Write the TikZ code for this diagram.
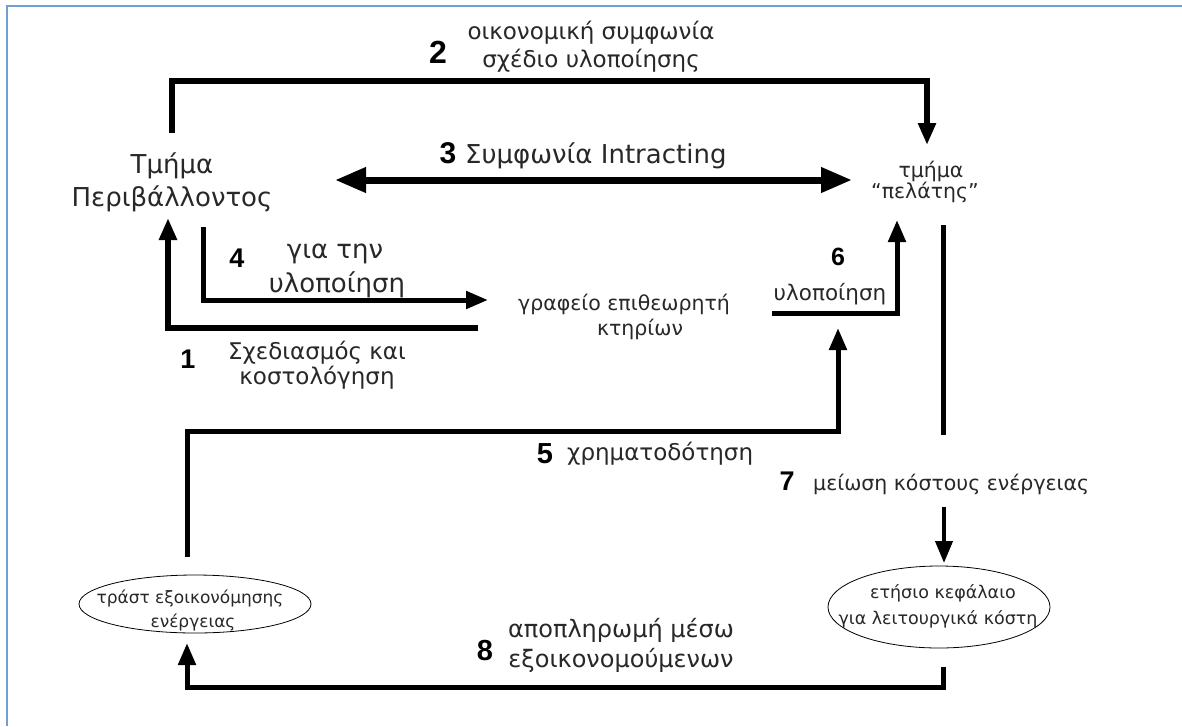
\documentclass[tikz,border=0pt]{standalone}
\usepackage{fontspec}
\setmainfont{DejaVu Sans}
\newfontfamily\numfont{Liberation Sans}
\usetikzlibrary{arrows.meta,shapes.geometric}
\definecolor{frameblue}{RGB}{110,160,215}
\definecolor{txt}{RGB}{40,40,40}
\tikzset{
  conn/.style={line width=5pt, black},
  arr/.style={conn, -{Triangle[length=22pt,width=17pt]}},
  dblarr/.style={line width=7pt, black, {Triangle[length=31pt,width=24pt]}-{Triangle[length=31pt,width=24pt]}},
  big/.style={font=\fontsize{#1}{#1}\selectfont, text=txt, anchor=base, inner sep=0pt},
  big/.default=23,
  mid/.style={font=\fontsize{#1}{#1}\selectfont, text=txt, anchor=base, inner sep=0pt},
  mid/.default=20.5,
  small/.style={font=\fontsize{#1}{#1}\selectfont, text=txt, anchor=base, inner sep=0pt},
  small/.default=17.5,
  num/.style={font=\numfont\bfseries\fontsize{#1}{#1}\selectfont, text=black, anchor=base, inner sep=0pt},
  oval/.style={ellipse, draw, line width=0.8pt, inner sep=0pt},
}
\begin{document}
\begin{tikzpicture}[x=1pt,y=-1pt]
\useasboundingbox (0,0) rectangle (1182,726);
\fill[white] (0,0) rectangle (1182,726);
% frame
\draw[frameblue, line width=2.5pt] (7,726) -- (7,6) -- (1182,6);

% text nodes
\node[big=26] (env1) at (172,173) {Τμήμα};
\node[big=26] (env2) at (172,206) {Περιβάλλοντος};
\node[mid] (cli1) at (931,177) {τμήμα};
\node[mid] (cli2) at (925,198) {“πελάτης”};
\node[mid] (off1) at (624,310) {γραφείο επιθεωρητή};
\node[mid] (off2) at (640,335) {κτηρίων};

\node[num=32] (n2) at (438,63) {2};
\node[big] (t2a) at (591,39) {οικονομική συμφωνία};
\node[big] (t2b) at (591,67) {σχέδιο υλοποίησης};
\node[num=30] (n3) at (448,163) {3};
\node[big=26, anchor=base west] (t3) at (465,163) {Συμφωνία Intracting};
\node[num=27] (n4) at (237,267) {4};
\node[big=26] (t4a) at (335,258) {για την};
\node[big=26] (t4b) at (337,292) {υλοποίηση};
\node[num=27] (n1) at (188,368) {1};
\node[big] (t1a) at (317,359) {Σχεδιασμός και};
\node[big] (t1b) at (317,384) {κοστολόγηση};
\node[num=25] (n6) at (838,265) {6};
\node[mid=21.5] (t6) at (830,300) {υλοποίηση};
\node[num=29] (n5) at (545,463) {5};
\node[big, anchor=base west] (t5) at (567,460) {χρηματοδότηση};
\node[num=27] (n7) at (787,490) {7};
\node[mid, anchor=base west] (t7) at (813,490) {μείωση κόστους ενέργειας};
\node[num=29] (n8) at (485,660) {8};
\node[big=24] (t8a) at (621,637) {αποπληρωμή μέσω};
\node[big=24] (t8b) at (621,667) {εξοικονομούμενων};

% ellipses
\node[oval, minimum width=232pt, minimum height=58pt] (trust) at (195,604) {};
\node[small=17] (tr1) at (190,603) {τράστ εξοικονόμησης};
\node[small=17] (tr2) at (193,627) {ενέργειας};
\node[oval, minimum width=222pt, minimum height=82pt] (fund) at (939,607) {};
\node[small] (fu1) at (943,598) {ετήσιο κεφάλαιο};
\node[small] (fu2) at (938,624) {για λειτουργικά κόστη};

% connector end points
\coordinate (envT) at (172,133);
\coordinate (envR) at (335,180);
\coordinate (envB1) at (168,218);
\coordinate (envB4) at (203,227);
\coordinate (cliT) at (927,145);
\coordinate (cliL) at (852,180);
\coordinate (cliB6) at (897,220);
\coordinate (cliB7) at (943,225);
\coordinate (offL4) at (488,300);
\coordinate (offL1) at (478,328);
\coordinate (offR) at (772,313);
\coordinate (offB5) at (838,328);
\coordinate (truT) at (187,557);
\coordinate (truB) at (187,643);
\coordinate (lab7T) at (943,435);
\coordinate (lab7B) at (944,507);
\coordinate (funT) at (944,563);
\coordinate (funB) at (943,667);

% connectors
\draw[arr, line width=6pt] (envT) -- ++(0,-52) -| (cliT);
\draw[dblarr] (envR) -- (cliL);
\draw[arr, line width=6pt] (offL1) -| (envB1);
\draw[arr] (envB4) |- (offL4);
\draw[arr] (offR) -| (cliB6);
\draw[arr] (truT) -- ++(0,-126) -| (offB5);
\draw[conn] (cliB7) -- (lab7T);
\draw[arr, line width=4pt] (lab7B) -- (funT);
\draw[arr] (funB) -- ++(0,20) -| (truB);
\end{tikzpicture}
\end{document}
